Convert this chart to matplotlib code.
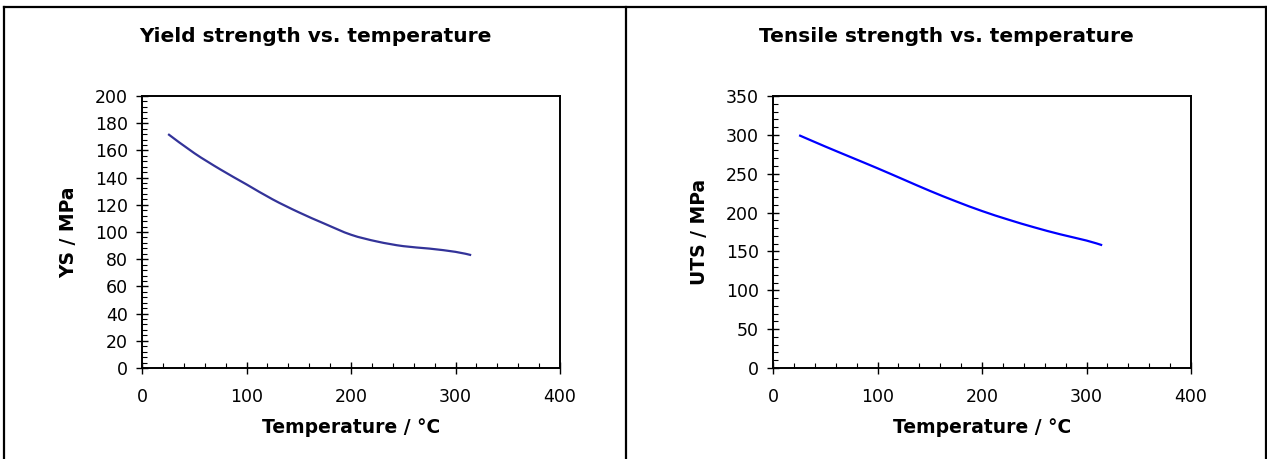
import numpy as np
import matplotlib
matplotlib.use("Agg")
import matplotlib.pyplot as plt
from matplotlib.lines import Line2D
from matplotlib.path import Path
from matplotlib.patches import PathPatch
from matplotlib.ticker import MultipleLocator

# DejaVu is a bit wider than Arial, closer to the stretched look of the original
plt.rcParams['font.family'] = ['DejaVu Sans']

# data
temp = [25, 50, 75, 100, 125, 150, 175, 200, 225, 250, 275, 300, 315]
ys = [172, 158, 146, 135, 124, 114.5, 106, 98, 93, 89.6, 87.8, 85.4, 83]
uts = [299.5, 285, 271, 257, 242.5, 228, 214.5, 202, 191, 181, 172, 164, 158]

titles = ["Yield strength vs. temperature", "Tensile strength vs. temperature"]
ylabels = ["YS / MPa", "UTS / MPa"]
xlabel = "Temperature / \u00b0C"

W, H = 1267, 459
fig = plt.figure(figsize=(W / 100, H / 100), dpi=100)


def px(x0, y0, x1, y1):
    # pixel box -> figure fraction rect
    return [x0 / W, 1 - y1 / H, (x1 - x0) / W, (y1 - y0) / H]


def smooth_path(x, y):
    # excel style smoothed line: bezier segments through the points
    p = np.column_stack([x, y]).astype(float)
    verts = [p[0]]
    codes = [Path.MOVETO]
    n = len(p)
    for k in range(n - 1):
        p0 = p[k - 1] if k > 0 else p[k]
        p3 = p[k + 2] if k + 2 < n else p[k + 1]
        c1 = p[k] + (p[k + 1] - p0) / 6
        c2 = p[k + 1] - (p3 - p[k]) / 6
        verts += [c1, c2, p[k + 1]]
        codes += [Path.CURVE4] * 3
    return Path(verts, codes)


ax1 = fig.add_axes(px(142, 96, 560, 368))
ax2 = fig.add_axes(px(773, 96, 1191, 368))

panels = [
    (ax1, ys, "#333399", 200, 20, 4, 315),
    (ax2, uts, "#0000ff", 350, 50, 10, 946),
]

for i, (ax, vals, col, ymax, ymaj, ymin, cx) in enumerate(panels):
    ax.add_patch(PathPatch(smooth_path(temp, vals), fill=False,
                           edgecolor=col, lw=1.6))
    ax.set_xlim(0, 400)
    ax.set_ylim(0, ymax)
    ax.xaxis.set_major_locator(MultipleLocator(100))
    ax.xaxis.set_minor_locator(MultipleLocator(20))
    ax.yaxis.set_major_locator(MultipleLocator(ymaj))
    ax.yaxis.set_minor_locator(MultipleLocator(ymin))
    ax.tick_params(which='major', direction='inout', length=8.5, width=1.0,
                   labelsize=12.5, color='black')
    ax.tick_params(axis='y', which='major', pad=6)
    ax.tick_params(axis='x', which='major', pad=10)
    ax.tick_params(which='minor', direction='in', length=3.5, width=0.8)
    for s in ax.spines.values():
        s.set_linewidth(1.4)
    ax.set_xlabel(xlabel, fontsize=13.5, fontweight='bold', labelpad=9)
    ax.set_ylabel(ylabels[i], fontsize=13.5, fontweight='bold', labelpad=12)
    fig.text(cx / W, 1 - 36 / H, titles[i], ha='center', va='center',
             fontsize=14.5, fontweight='bold')

# panel borders
for (x0, y0, x1, y1) in [(4, 7, 1266, 7), (4, 7, 4, 459), (626, 7, 626, 459),
                         (1265.5, 7, 1265.5, 459)]:
    fig.add_artist(Line2D([x0 / W, x1 / W], [1 - y0 / H, 1 - y1 / H],
                          color='black', lw=1.6, transform=fig.transFigure))

fig.savefig("out.png", dpi=100)
